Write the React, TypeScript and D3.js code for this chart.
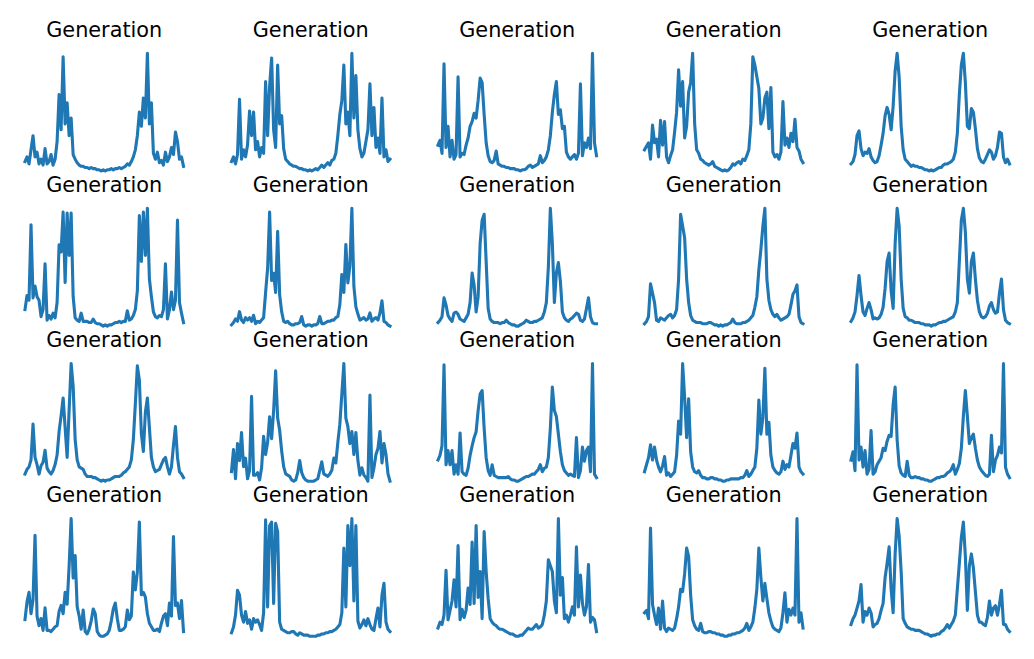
import React from "react";
import * as d3 from "d3";

// values, 0 = panel minimum, 100 = panel maximum
const gen_r0c0 = [8,12,6,18,30,12,16,6,10,5, 19,6,8,14,5,10,25,65,35,97, 40,58,30,45,14,10,7,5,4,4, 3,3,2,3,2,2,1,1,0,1, 0,1,1,2,1,2,2,3,2,3, 4,6,5,8,12,18,30,50,38,62, 45,100,40,58,15,10,16,7,9,5, 16,8,12,20,14,33,25,10,12,4];
const gen_r0c1 = [8,12,6,14,61,10,18,12,22,51, 30,50,18,25,12,20,15,76,30,72, 96,35,20,90,40,47,19,10,8,6, 5,4,4,3,2,2,1,1,0,1, 0,1,2,1,3,5,3,5,7,5, 9,10,15,30,48,60,90,40,50,30, 100,45,81,35,19,12,15,25,35,74, 30,54,20,28,15,62,12,18,8,10];
const gen_r0c2 = [22,26,15,91,20,38,12,26,10,14, 80,12,15,14,22,28,38,42,49,45, 60,79,75,48,24,13,8,7,9,17, 6,5,4,4,3,3,2,2,2,1, 1,0,1,1,2,4,5,3,4,5, 6,13,7,9,12,18,30,50,65,76, 48,52,36,38,16,12,10,12,14,10, 15,74,13,24,20,28,19,100,24,13];
const gen_r0c3 = [18,21,24,10,39,24,27,12,43,22, 42,12,7,13,18,33,50,86,55,76, 28,38,67,75,100,40,18,15,10,9, 7,6,5,6,8,4,3,2,1,0, 1,0,1,3,6,5,7,8,6,10, 9,13,18,40,97,90,80,70,40,45, 62,67,36,71,16,12,14,10,16,59, 22,28,20,32,25,44,20,17,10,7];
const gen_r0c4 = [6,8,14,30,34,19,13,16,15,19, 12,9,7,8,13,22,32,47,54,48, 35,55,85,100,80,38,18,10,8,6, 4,5,4,4,3,3,2,1,1,0, 1,0,1,2,3,3,5,6,6,7, 8,10,16,32,65,90,100,75,38,36, 53,50,36,19,11,8,7,10,14,18, 16,10,13,20,33,32,12,7,10,6];

const gen_r1c0 = [14,26,22,86,24,34,25,22,8,14, 53,5,9,6,11,7,20,69,63,97, 37,96,60,96,25,7,5,4,11,4, 4,4,3,3,6,3,2,2,1,0, 1,0,1,1,2,3,3,4,3,4, 4,13,5,6,9,14,30,94,55,97, 60,100,40,25,12,8,7,9,8,14, 53,6,14,29,14,22,90,20,11,3];
const gen_r1c1 = [3,5,8,6,14,7,5,9,7,9, 6,11,4,6,5,7,9,30,50,97, 40,46,30,81,28,14,6,5,6,4, 3,3,4,4,5,10,3,2,3,3, 2,3,3,4,10,4,4,5,6,6, 7,7,9,10,20,45,30,70,38,52, 100,35,18,12,7,8,9,7,8,13, 6,8,9,7,13,23,6,5,3,2];
const gen_r1c2 = [3,5,8,24,18,9,6,4,11,12, 10,6,5,4,7,10,20,45,35,12, 25,70,90,95,55,15,6,4,3,3, 3,2,3,3,5,3,2,1,1,0, 0,1,2,3,5,4,3,3,4,4, 5,6,7,12,20,50,100,70,20,45, 54,38,12,7,5,4,6,7,9,11, 10,5,4,6,15,24,8,3,2,2];
const gen_r1c3 = [2,4,8,36,28,20,5,4,7,6, 5,7,9,10,7,9,14,40,95,85, 75,40,20,9,5,4,3,3,3,2, 2,2,3,3,2,1,1,0,1,0, 1,1,2,3,6,3,2,2,2,3, 3,4,5,7,9,16,25,48,65,85, 100,40,22,14,10,8,10,7,5,6, 7,8,10,18,27,30,35,8,3,2];
const gen_r1c4 = [4,7,12,26,43,26,12,9,15,20, 14,6,7,6,7,10,16,32,55,62, 30,15,70,100,85,40,15,8,7,5, 5,4,3,3,3,2,2,1,1,1, 0,1,1,2,3,3,4,4,5,6, 7,8,12,20,55,90,100,80,40,28, 55,62,40,22,12,8,7,8,11,17, 20,14,11,12,28,40,14,5,3,2];

const gen_r2c0 = [6,10,12,18,48,20,14,6,13,16, 26,11,8,6,9,14,22,42,55,70, 45,20,60,99,80,35,18,12,11,10, 6,4,4,4,3,3,2,1,0,1, 0,1,1,2,3,4,4,4,5,7, 8,10,12,18,35,65,97,85,40,25, 58,70,45,20,12,8,9,10,14,18, 20,12,6,12,30,46,20,8,6,3];
const gen_r2c1 = [11,29,5,34,20,43,15,22,5,12, 73,8,8,10,4,14,40,25,35,56, 38,61,94,55,45,28,15,9,8,7, 4,3,4,10,20,10,6,4,3,3, 3,3,4,5,12,19,9,8,7,9, 12,22,18,35,50,75,100,55,48,34, 44,25,43,20,8,14,8,6,3,74, 6,14,25,30,44,18,34,25,9,3];
const gen_r2c2 = [18,22,30,99,14,26,14,26,6,14, 6,41,8,6,5,11,22,30,37,42, 60,74,77,45,20,9,5,14,5,4, 3,3,3,3,3,4,2,1,1,0, 0,1,2,3,4,4,5,6,6,8, 10,14,8,11,12,20,45,80,60,55, 40,25,14,9,7,5,6,5,4,37, 3,9,29,17,26,29,8,100,6,3];
const gen_r2c3 = [8,14,20,31,18,29,18,12,8,13, 21,5,7,4,6,8,22,51,40,100, 71,37,70,25,12,8,7,9,5,3, 3,2,2,3,3,2,2,1,1,0, 0,1,1,2,2,2,2,2,3,3, 5,9,4,6,9,12,28,69,40,54, 96,40,50,22,12,9,7,6,8,17, 10,14,12,22,32,28,41,12,8,6];
const gen_r2c4 = [18,25,9,99,18,29,12,26,6,10, 43,6,8,14,17,20,28,26,34,39, 38,65,80,35,13,7,5,4,17,5, 3,3,4,3,3,2,2,1,1,0, 0,1,2,3,3,4,4,5,7,8, 10,14,6,10,15,28,55,77,55,32, 37,40,28,18,12,9,7,5,4,6, 39,8,18,22,29,24,100,12,6,3];

const gen_r3c0 = [15,30,38,20,32,86,18,10,16,6, 25,6,6,5,7,9,10,22,27,20, 38,28,60,100,50,69,26,18,7,23, 5,3,7,14,24,20,5,2,1,1, 2,3,6,14,24,29,16,6,6,7, 9,23,15,18,55,40,55,97,36,38, 34,20,12,9,6,6,7,5,12,18, 20,10,29,18,85,27,29,16,31,5];
const gen_r3c1 = [3,8,18,39,35,18,12,21,11,14, 6,15,12,14,10,5,20,99,25,94, 97,28,96,89,12,6,5,4,3,3, 4,4,2,1,3,2,1,1,1,0, 0,0,0,1,1,2,2,3,3,4, 4,5,6,8,10,20,75,25,94,60, 100,30,94,13,7,10,14,9,15,10, 6,5,15,24,8,35,45,12,6,4];
const gen_r3c2 = [7,12,10,18,56,14,22,30,48,25, 77,14,23,16,22,41,27,80,28,94, 33,55,15,89,55,32,15,12,10,9, 7,6,6,5,4,3,2,2,1,0, 0,1,1,3,5,7,6,6,8,10, 7,8,10,18,30,65,60,55,30,20, 100,35,50,15,18,12,18,25,18,76, 25,52,28,18,25,61,12,16,14,4];
const gen_r3c3 = [20,22,15,92,27,18,10,24,6,30, 7,4,7,6,5,7,15,25,40,38, 53,75,68,35,14,9,6,5,11,4, 3,3,4,4,3,3,2,2,1,1, 0,0,1,1,2,2,3,3,4,5, 7,11,5,8,12,24,40,75,50,30, 45,32,20,13,8,6,5,4,7,20, 37,12,23,18,24,18,100,12,20,7];
const gen_r3c4 = [10,15,18,24,30,44,12,21,18,24, 20,8,10,11,15,22,28,50,62,76, 40,20,70,100,85,55,15,11,8,7, 6,6,5,5,5,4,3,2,2,1, 0,1,1,2,2,4,5,7,10,7, 10,13,18,40,62,84,97,68,22,60, 70,58,38,18,12,12,10,9,16,30, 18,24,26,18,27,39,10,10,6,4];

const panelRows = [
  [gen_r0c0, gen_r0c1, gen_r0c2, gen_r0c3, gen_r0c4],
  [gen_r1c0, gen_r1c1, gen_r1c2, gen_r1c3, gen_r1c4],
  [gen_r2c0, gen_r2c1, gen_r2c2, gen_r2c3, gen_r2c4],
  [gen_r3c0, gen_r3c1, gen_r3c2, gen_r3c3, gen_r3c4],
];
const panelTitle = "Generation";

const W = 1034;
const H = 659;
const colStep = 206.5;
const rowStep = 155.1;
const plotLeft = 25;
const plotWidth = 158.5;
const plotTop = 53.3;
const plotHeight = 117.7;
const titleBaseline = 36.7;

function Panel({ values, row, col }: { values: number[]; row: number; col: number }) {
  const x0 = plotLeft + col * colStep;
  const y0 = plotTop + row * rowStep;
  const x = d3.scaleLinear().domain([0, values.length - 1]).range([x0, x0 + plotWidth]);
  const [lo, hi] = d3.extent(values) as [number, number];
  const y = d3.scaleLinear().domain([lo, hi]).range([y0 + plotHeight, y0]);
  const path = d3.line<number>()
    .x((_, i) => x(i))
    .y(d => y(d))(values);

  return (
    <g>
      <text
        x={x0 + plotWidth / 2}
        y={titleBaseline + row * rowStep}
        textAnchor="middle"
        fontFamily="DejaVu Sans"
        fontSize={20.8}
        fill="#000"
      >
        {panelTitle}
      </text>
      <path
        d={path ?? ""}
        fill="none"
        stroke="#1f77b4"
        strokeWidth={3.1}
        strokeLinejoin="round"
        strokeLinecap="square"
      />
    </g>
  );
}

export default function App() {
  return (
    <svg
      width={W}
      height={H}
      style={{ position: "absolute", left: 0, top: 0, background: "#fff" }}
    >
      {panelRows.map((row, r) =>
        row.map((values, c) => <Panel key={`${r}-${c}`} values={values} row={r} col={c} />)
      )}
    </svg>
  );
}
